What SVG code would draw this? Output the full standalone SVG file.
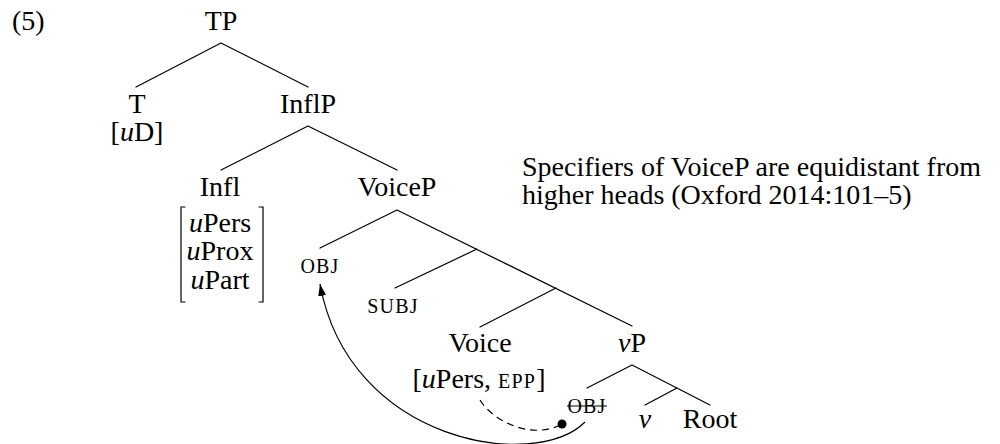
<svg xmlns="http://www.w3.org/2000/svg" width="1000" height="444" viewBox="0 0 1000 444" font-family="'Liberation Serif', 'DejaVu Serif', serif">
  <style>
    text { font-family: 'Liberation Serif', 'DejaVu Serif', serif; font-size: 28px; fill: #000; }
    .mid { text-anchor: middle; }
    .sc { font-size: 20px; letter-spacing: 1.2px; }
    .it { font-style: italic; }
    .edge { stroke: #000; stroke-width: 1.2; fill: none; stroke-linecap: round; }
    .move { stroke: #000; stroke-width: 1.2; fill: none; }
    .dash { stroke-dasharray: 7 5; }
  </style>
  <defs>
    <marker id="arrow" viewBox="0 0 12 8" refX="12" refY="4" markerWidth="12" markerHeight="8" markerUnits="userSpaceOnUse" orient="auto">
      <path d="M0,0 L12,4 L0,8 z" fill="#000"/>
    </marker>
  </defs>

  <text x="12" y="30">(5)</text>

  <!-- tree branches -->
  <g id="connectors">
    <path class="edge" d="M221,43 L136,87 M221,43 L308,87"/>
    <path class="edge" d="M308,126 L221,170 M308,126 L397,170"/>
    <path class="edge" d="M397,210 L320,248 M397,210 L632,326"/>
    <path class="edge" d="M477,249 L395,288"/>
    <path class="edge" d="M556,288 L480,327"/>
    <path class="edge" d="M632,365 L587,388 M632,365 L710,405"/>
    <path class="edge" d="M677,388 L645,405"/>
    <!-- movement arrow and agreement probe -->
    <path class="move" d="M585,422 C535,472 349,443 320,284" marker-end="url(#arrow)"/>
    <path class="move dash" d="M480,400 C492,420 530,440 560,425"/>
    <circle cx="562" cy="424" r="4.5" fill="#000"/>
  </g>

  <g id="TP"><text class="mid" x="221" y="30">TP</text></g>
  <g id="T">
    <text class="mid" x="137" y="113">T</text>
    <text class="mid" x="137" y="141">[<tspan class="it">u</tspan>D]</text>
  </g>
  <g id="InflP"><text class="mid" x="308" y="113">InflP</text></g>
  <g id="Infl">
    <text class="mid" x="220" y="196">Infl</text>
    <path class="edge" d="M185,207 H181 V302 H185 M259,207 H263 V302 H259" stroke-linecap="square"/>
    <text class="mid" x="220" y="232"><tspan class="it">u</tspan>Pers</text>
    <text class="mid" x="220" y="260"><tspan class="it">u</tspan>Prox</text>
    <text class="mid" x="220" y="289"><tspan class="it">u</tspan>Part</text>
  </g>
  <g id="VoiceP"><text class="mid" x="397" y="196">VoiceP</text></g>
  <g id="OBJ"><text class="mid sc" x="320" y="273">OBJ</text></g>
  <g id="SUBJ"><text class="mid sc" x="393" y="313">SUBJ</text></g>
  <g id="Voice">
    <text class="mid" x="480" y="352">Voice</text>
    <text class="mid" x="479" y="388">[<tspan class="it">u</tspan>Pers, <tspan class="sc">EPP</tspan>]</text>
  </g>
  <g id="vP"><text class="mid" x="632" y="352"><tspan class="it">v</tspan>P</text></g>
  <g id="OBJ-copy">
    <text class="mid sc" x="587" y="413">OBJ</text>
    <line x1="567" y1="406" x2="607" y2="406" stroke="#000" stroke-width="1.2"/>
  </g>
  <g id="v"><text class="mid it" x="645" y="428">v</text></g>
  <g id="Root"><text class="mid" x="710" y="428">Root</text></g>

  <g id="note">
    <text x="522" y="176">Specifiers of VoiceP are equidistant from</text>
    <text x="522" y="204">higher heads (Oxford 2014:101–5)</text>
  </g>
</svg>
